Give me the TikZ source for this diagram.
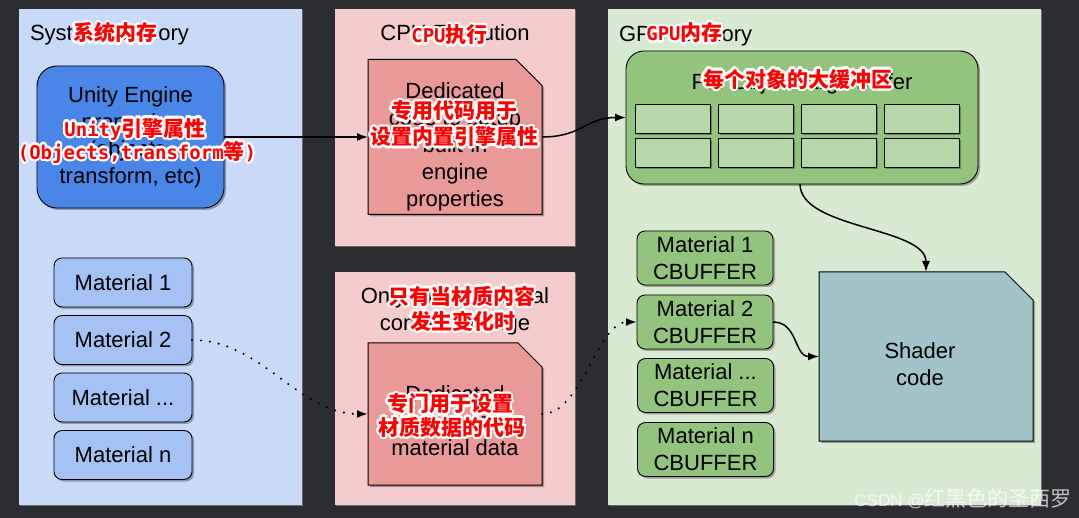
\documentclass[tikz,border=0pt]{standalone}
\usepackage{fontspec}
\setmainfont{Liberation Sans}
\newfontfamily\cjk{Noto Sans CJK SC}
\newfontfamily\hmono{DejaVu Sans Mono}
\usetikzlibrary{arrows.meta,shadows}
\pgfdeclarelayer{back}
\pgfdeclarelayer{mid}
\pgfsetlayers{back,mid,main}
\definecolor{bgdark}{HTML}{2B2D31}
\definecolor{sysblue}{HTML}{C9DAF8}
\definecolor{cpupink}{HTML}{F4CCCC}
\definecolor{gpugreen}{HTML}{D9EAD3}
\definecolor{unityblue}{HTML}{4A86E8}
\definecolor{matblue}{HTML}{A4C2F4}
\definecolor{dedred}{HTML}{EA9999}
\definecolor{boxgreen}{HTML}{93C47D}
\definecolor{cellgreen}{HTML}{B6D7A8}
\definecolor{shaderblue}{HTML}{A2C4C9}
\definecolor{lblred}{HTML}{FF0000}
\newcommand\lm[1]{{\hmono\bfseries\fontsize{19}{24}\selectfont #1}}
\newcommand\tdots{...}
\tikzset{
  every node/.style={font=\fontsize{22}{27}\selectfont, inner sep=0pt, outer sep=0pt},
  panel/.style={fill=#1, anchor=north west,
    drop shadow={shadow xshift=1pt, shadow yshift=-1pt, opacity=.7, fill=gray}},
  boxshadow/.style={drop shadow={shadow xshift=2pt, shadow yshift=-2pt, opacity=.3, fill=black}},
  roundbox/.style={draw=black, line width=0.9pt, fill=#1, align=center, boxshadow},
  cellbox/.style={draw=black, line width=0.8pt, fill=cellgreen, minimum width=75, minimum height=29, boxshadow},
  redlbl/.style={font=\cjk\bfseries\fontsize{21}{24}\selectfont, text=lblred},
  conn/.style={line width=1.5pt, -{Latex[length=11pt,width=8pt]}},
  dotconn/.style={line width=2.3pt, line cap=round, dash pattern=on 0pt off 9pt, -{Latex[length=11pt,width=8pt]}},
}
\newcommand\redlabel[3]{%
  \foreach \ang in {0,22.5,...,337.5}{%
    \node[redlbl, text=white] at ([shift={(\ang:2.2pt)}]#2) {#3};}
  \node[redlbl] (#1) at (#2) {#3};}
\newcommand\cutpoly[3]{%
  \begin{pgfonlayer}{mid}
  \path[fill=#3, draw=black, line width=1pt, boxshadow]
    (#1.south west) -- (#1.north west) -- ([xshift=-#2]#1.north east)
    -- ([yshift=-#2]#1.north east) -- (#1.south east) -- cycle;
  \end{pgfonlayer}}
\begin{document}
\begin{tikzpicture}[x=1pt,y=-1pt]
\begin{pgfonlayer}{back}
  \fill[bgdark] (0,0) rectangle (1079,518);
  \node[panel=sysblue, minimum width=283, minimum height=496] (sysp) at (19,9) {};
  \node[panel=cpupink, minimum width=240, minimum height=237] (cpup) at (335,9) {};
  \node[panel=cpupink, minimum width=240, minimum height=233] (matp) at (335,272) {};
  \node[panel=gpugreen, minimum width=433, minimum height=496] (gpup) at (608,9) {};
\end{pgfonlayer}
\useasboundingbox (0,0) rectangle (1079,518);

% titles
\node[anchor=base west] (syst) at (30,41) {System memory};
\node[anchor=base] (cput) at (455,41) {CPU Execution};
\node[anchor=base west] (gput) at (619,42) {GPU memory};
\node[align=center] (matt) at (455,311) {Only when material\\content change};

% system memory
\node[roundbox=unityblue, rounded corners=20pt, minimum width=187, minimum height=142] (unity) at (130.5,137)
  {Unity Engine\\properties\\(objects,\\transform, etc)};
\node[roundbox=matblue, rounded corners=8pt, minimum width=138, minimum height=49] (lm1) at (123,282.5) {Material 1};
\node[roundbox=matblue, rounded corners=8pt, minimum width=138, minimum height=49] (lm2) at (123,340) {Material 2};
\node[roundbox=matblue, rounded corners=8pt, minimum width=138, minimum height=49] (lm3) at (123,397.5) {Material \tdots};
\node[roundbox=matblue, rounded corners=8pt, minimum width=138, minimum height=49] (lm4) at (123,455) {Material n};

% CPU execution boxes
\node[minimum width=174, minimum height=155] (ded1) at (455,137) {};
\cutpoly{ded1}{26pt}{dedred}
\node[align=center] (ded1t) at (455,147) {Dedicated\\code to setup\\built-in\\engine\\properties};
\node[minimum width=174, minimum height=142] (dedb) at (455,414) {};
\cutpoly{dedb}{24pt}{dedred}
\node[align=center] (dedbt) at (455,421) {Dedicated\\code to setup\\material data};

% GPU memory
\node[roundbox=boxgreen, rounded corners=18pt, minimum width=352, minimum height=133] (big) at (802,117.5) {};
\node[anchor=base] (bigt) at (802,90) {Per Object large buffer};
\foreach \c/\x in {1/672.5, 2/755.5, 3/838.5, 4/921.5}{
  \node[cellbox] (ca\c) at (\x,118.5) {};
  \node[cellbox] (cb\c) at (\x,152.5) {};
}
\node[roundbox=boxgreen, rounded corners=8pt, minimum width=136, minimum height=54] (mc1) at (705,258) {Material 1\\CBUFFER};
\node[roundbox=boxgreen, rounded corners=8pt, minimum width=136, minimum height=54] (mc2) at (705,322) {Material 2\\CBUFFER};
\node[roundbox=boxgreen, rounded corners=8pt, minimum width=136, minimum height=54] (mc3) at (705.5,385.5) {Material \tdots\\CBUFFER};
\node[roundbox=boxgreen, rounded corners=8pt, minimum width=136, minimum height=54] (mc4) at (705.5,449.5) {Material n\\CBUFFER};
\node[minimum width=214, minimum height=169] (shader) at (926,356.5) {};
\cutpoly{shader}{28pt}{shaderblue}
\node[align=center] (shadert) at (920,364) {Shader\\code};

% connectors
\draw[conn] (unity.east) -- (ded1.west);
\draw[conn] (ded1.east) .. controls +(40,0) and +(-40,0) .. (big.west);
\draw[conn] ([xshift=-2pt]big.south) .. controls +(0,45) and +(0,-45) .. (shader.north);
\draw[dotconn] (lm2.east) .. controls +(70,0) and +(-70,0) .. (dedb.west);
\draw[dotconn] (dedb.east) .. controls +(40,0) and +(-40,0) .. (mc2.west);
\draw[conn] (mc2.east) .. controls +(25,0) and +(-25,0) .. (shader.west);

% red overlay labels
\redlabel{r1}{115,33}{系统内存}
\redlabel{r2}{135,129}{\lm{Unity}引擎属性}
\redlabel{r3}{137,152}{\lm{(Objects,transform}等\lm{)}}
\redlabel{r4}{449.5,35}{\lm{CPU}执行}
\redlabel{r5}{454,111}{专用代码用于}
\redlabel{r6}{454.5,137}{设置内置引擎属性}
\redlabel{r7}{684.5,33}{\lm{GPU}内存}
\redlabel{r8}{797.5,79}{每个对象的大缓冲区}
\redlabel{r9}{462,296}{只有当材质内容}
\redlabel{r10}{462.5,321}{发生变化时}
\redlabel{r11}{450,404}{专门用于设置}
\redlabel{r12}{452,427}{材质数据的代码}

% watermark
\node[text=white, opacity=.7] (wm) at (963,499)
  {{\fontsize{17}{20}\selectfont CSDN @}{\cjk\fontsize{21}{24}\selectfont 红黑色的圣西罗}};
\end{tikzpicture}
\end{document}
